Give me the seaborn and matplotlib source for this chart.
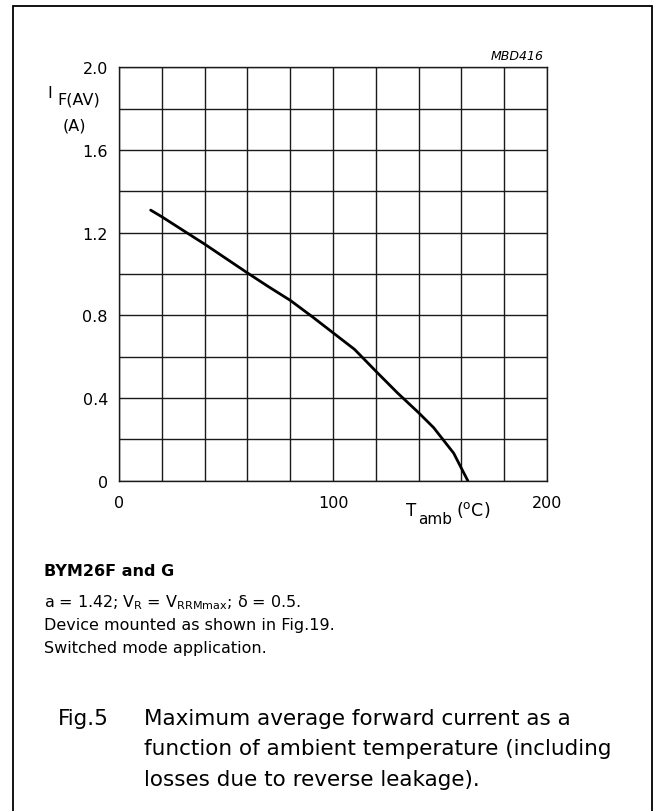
import numpy as np
import pandas as pd
import matplotlib
matplotlib.use("Agg")
import matplotlib.pyplot as plt
from matplotlib.patches import Rectangle
import seaborn as sns

# curve
t_amb = [14.8, 20.0, 30.1, 40.1, 50.0, 60.2, 70.1, 80.1, 90.1, 100.1, 110.1, 120.0,
         130.0, 140.0, 147.0, 156.4, 160.2, 163.0]
i_fav = [1.309, 1.277, 1.210, 1.144, 1.075, 1.004, 0.937, 0.872, 0.795, 0.715, 0.635, 0.530,
         0.426, 0.329, 0.257, 0.133, 0.056, 0.0]

x_grid = list(range(0, 201, 20))
y_grid = [round(0.2 * k, 1) for k in range(11)]
x_labels = {0: "0", 100: "100", 200: "200"}
y_labels = {0.0: "0", 0.4: "0.4", 0.8: "0.8", 1.2: "1.2", 1.6: "1.6", 2.0: "2.0"}

notes = ["a = 1.42; $\\mathregular{V_R}$ = $\\mathregular{V_{RRMmax}}$; \u03b4 = 0.5.",
         "Device mounted as shown in Fig.19.",
         "Switched mode application."]
caption = ["Maximum average forward current as a",
           "function of ambient temperature (including",
           "losses due to reverse leakage)."]

sns.set_style("white")
plt.rcParams["font.family"] = ["DejaVu Sans"]
plt.rcParams["mathtext.fontset"] = "dejavusans"
plt.rcParams["text.color"] = "black"
plt.rcParams["xtick.color"] = "black"
plt.rcParams["ytick.color"] = "black"

W, H = 654, 812
fig = plt.figure(figsize=(W / 100, H / 100), dpi=100)

def fx(px):
    return px / W

def fy(py):
    return 1 - py / H

ax = fig.add_axes([fx(119), fy(481.7), fx(547) - fx(119), fy(68.3) - fy(481.7)])

df = pd.DataFrame({"T": t_amb, "I": i_fav})
sns.lineplot(data=df, x="T", y="I", ax=ax, color="black", linewidth=2.0, sort=False)

ax.set_xlim(0, 200)
ax.set_ylim(0, 2.0)
ax.set_xticks(x_grid)
ax.set_yticks(y_grid)
ax.set_xticklabels([x_labels.get(v, "") for v in x_grid], fontsize=11.5)
ax.set_yticklabels([y_labels.get(v, "") for v in y_grid], fontsize=11.5)
ax.tick_params(axis="x", length=0, pad=10)
ax.tick_params(axis="y", length=0, pad=8)
ax.grid(True, color="#1a1a1a", linewidth=1.0)
for s in ax.spines.values():
    s.set_color("#1a1a1a")
    s.set_linewidth(1.0)
ax.set_xlabel("")
ax.set_ylabel("")

# axis titles
fig.text(fx(47), fy(93), "I", fontsize=11.5, ha="left", va="center")
fig.text(fx(57), fy(100), "F(AV)", fontsize=11.5, ha="left", va="center")
fig.text(fx(74), fy(126), "(A)", fontsize=11.5, ha="center", va="center")
fig.text(fx(406), fy(511), "T", fontsize=12, ha="left", va="center")
fig.text(fx(418), fy(520), "amb", fontsize=11, ha="left", va="center")
fig.text(fx(456), fy(510), "($\\mathregular{^{o}}$C)", fontsize=12.5, ha="left", va="center")
fig.text(fx(544), fy(57), "MBD416", fontsize=9, style="italic", ha="right", va="center")

# notes
fig.text(fx(44), fy(572), "BYM26F and G", fontsize=11.5, weight="bold", ha="left", va="center")
for k, line in enumerate(notes):
    fig.text(fx(44), fy(603 + 22.5 * k), line, fontsize=11.5, ha="left", va="center")

# caption
fig.text(fx(58), fy(719), "Fig.5", fontsize=15.5, ha="left", va="center")
for k, line in enumerate(caption):
    fig.text(fx(144), fy(719 + 30.5 * k), line, fontsize=15.5, ha="left", va="center")

# frame around everything (bottom edge runs off the page)
fig.patches.append(Rectangle((fx(12.7), fy(815)), fx(652) - fx(12.7), fy(7.3) - fy(815),
                             transform=fig.transFigure, fill=False, edgecolor="black",
                             linewidth=1.3))

fig.savefig("out.png", dpi=100)
